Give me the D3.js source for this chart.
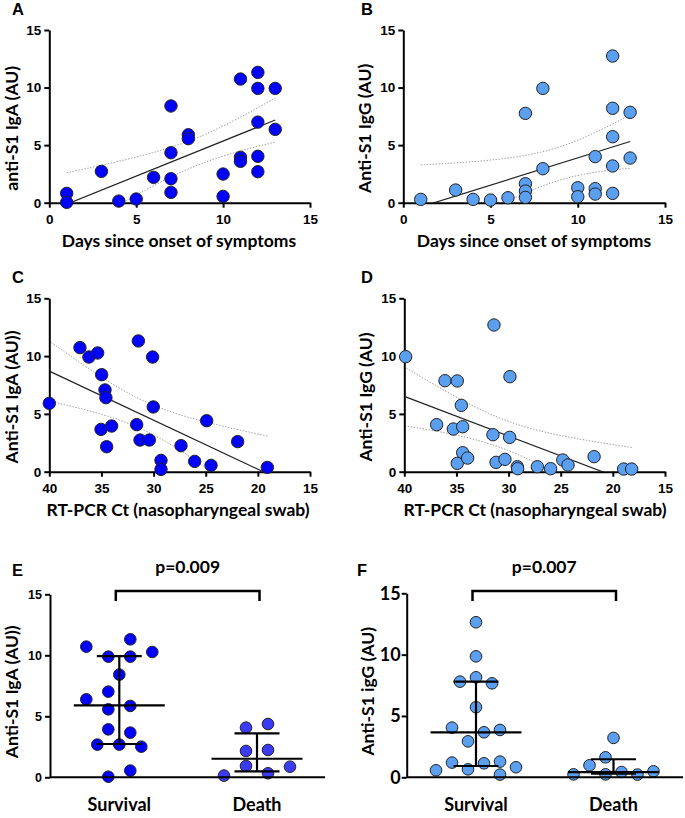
<!DOCTYPE html>
<html><head><meta charset="utf-8">
<script src="https://cdn.jsdelivr.net/npm/d3@7"></script>
<style>body{margin:0;background:#fff}svg{display:block}</style>
</head><body>
<script>
// ---------- DATA ----------
const yTicks = [0, 5, 10, 15];
const dayTicks = [0, 5, 10, 15];
const ctTicks = [40, 35, 30, 25, 20, 15];

// A: days vs IgA
const daysA = [1,1,3,4,5,6,7,7,7,7,8,8,10,10,11,11,11,12,12,12,12,12,13,13];
const igaA  = [0.81,0.03,2.72,0.14,0.32,2.2,8.4,4.34,2.08,0.9,5.9,5.56,2.49,0.55,10.74,3.94,3.59,11.32,9.93,7.0,4.03,2.69,9.93,6.37];
// B: days vs IgG
const daysB = [1,3,4,5,6,7,7,7,7,8,8,10,10,11,11,11,12,12,12,12,12,13,13];
const iggB  = [0.29,1.1,0.29,0.23,0.43,7.76,1.65,1.01,0.46,9.93,2.95,1.3,0.52,4.0,1.22,0.75,12.74,8.2,5.73,3.19,0.81,7.85,3.88];
// C: Ct vs IgA
const ctC  = [40,37.06,36.2,35.36,34.98,34.66,34.57,35.04,34.02,34.5,31.46,31.62,31.3,30.41,30.09,30.03,29.29,29.29,27.37,26.06,24.91,24.49,21.94,19.09];
const igaC = [5.91,10.73,9.92,10.27,8.39,7.07,6.4,3.66,3.95,2.16,11.31,4.07,2.74,2.74,9.92,5.6,0.98,0.2,2.25,0.89,4.41,0.55,2.6,0.37];
// D: Ct vs IgG
const ctD  = [39.87,36.9,36.1,34.92,35.3,34.53,34.4,34.4,34.92,33.93,31.4,31.5,31.2,30.35,29.87,29.9,29.16,29.13,27.24,25.97,24.8,24.3,21.8,18.96,18.2];
const iggD = [9.95,4.07,7.87,7.85,3.69,5.74,3.89,1.64,0.72,1.18,12.69,3.2,0.81,1.07,8.22,2.97,0.43,0.26,0.43,0.26,1.01,0.58,1.3,0.23,0.23];

// E / F: outcome groups
const outcomes = ["Survival", "Death"];
const survivalIgA     = [10.71,11.31,10.27,9.89,9.89,8.42,7.02,6.39,5.57,5.85,3.93,3.66,2.68,2.68,2.51,0.55,0.05];
const survivalIgALane = [-3,1,3,-1,1,0,-1,-3,-1,1,-1,1,-2,0,2,1,-1];
const deathIgA        = [4.07,4.37,2.16,2.24,0.14,0.93,0.33,0.87];
const deathIgALane    = [-1,1,-1,1,-3,-1,1,3];
const survivalIgAStats = [2.73, 5.9, 9.94];   // q1, median, q3
const deathIgAStats    = [0.49, 1.52, 3.6];

const survivalIgG     = [12.64,9.86,7.8,8.15,7.66,5.71,4.05,3.67,3.86,2.93,1.2,0.65,1.14,1.28,0.57,0.82,0.22];
const survivalIgGLane = [0,0,-2,0,2,0,-3,1,3,-1,-3,-1,1,3,-5,5,3];
const deathIgG        = [3.21,1.63,0.98,0.24,0.24,0.43,0.22,0.49];
const deathIgGLane    = [0,-1,-3,-5,-1,1,3,5];
const survivalIgGStats = [0.92, 3.67, 7.8];
const deathIgGStats    = [0.29, 0.43, 1.47];

const pValues = ["p=0.009", "p=0.007"];

// ---------- STYLE / LAYOUT ----------
const W = 685, H = 818;
const BLUE = "#0000ff", BLUE2 = "#3b3bf6", LBLUE = "#5a9ff0";
const TITLE_FONT = "Lato, 'Open Sans', sans-serif";
const TICK_FONT = "'Liberation Sans', Arial, sans-serif";

const svg = d3.select("body").append("svg").attr("width", W).attr("height", H);
const defs = svg.append("defs");

const tTable = {20:2.086, 21:2.080, 22:2.074, 23:2.069, 24:2.064};

function linfit(xs, ys) {
  const n = xs.length;
  const mx = d3.mean(xs), my = d3.mean(ys);
  let sxx = 0, sxy = 0;
  xs.forEach((x, i) => { sxx += (x - mx) ** 2; sxy += (x - mx) * (ys[i] - my); });
  const b = sxy / sxx, a = my - b * mx;
  let sse = 0;
  xs.forEach((x, i) => { sse += (ys[i] - a - b * x) ** 2; });
  const s = Math.sqrt(sse / (n - 2));
  const t = tTable[n - 2] || 2.07;
  return { a, b, half: x => t * s * Math.sqrt(1 / n + (x - mx) ** 2 / sxx) };
}

function styleAxis(g, fontSize, fontFamily) {
  g.select(".domain").attr("stroke", "#000").attr("stroke-width", 2);
  g.selectAll(".tick line").attr("stroke", "#000").attr("stroke-width", 2);
  g.selectAll(".tick text").attr("fill", "#000").attr("font-weight", "bold")
    .attr("font-size", fontSize).attr("font-family", fontFamily);
}

function panelLetter(txt, x, y) {
  svg.append("text").attr("x", x).attr("y", y).text(txt)
    .attr("font-family", TICK_FONT).attr("font-weight", "bold").attr("font-size", 16.5).attr("fill", "#000");
}

function yTitle(txt, x, y) {
  svg.append("text").attr("transform", `translate(${x},${y}) rotate(-90)`)
    .attr("text-anchor", "middle").text(txt)
    .attr("font-family", TITLE_FONT).attr("font-weight", "bold").attr("font-size", 17.5).attr("fill", "#000");
}

function scatterPanel(id, L, xs, ys, color, xTicksArr, xLabel, yLabel, letter) {
  const x = d3.scaleLinear().domain(L.xd).range([L.x0, L.x1]);
  const y = d3.scaleLinear().domain([0, 15]).range([L.y0, L.y1]);
  const g = svg.append("g");
  const clipId = "clip" + id;
  defs.append("clipPath").attr("id", clipId).append("rect")
    .attr("x", L.x0).attr("y", L.y1).attr("width", L.x1 - L.x0).attr("height", L.y0 - L.y1);

  // regression + 95% CI
  const fit = linfit(xs, ys);
  const xr = d3.extent(xs);
  const samples = d3.range(0, 61).map(i => xr[0] + (xr[1] - xr[0]) * i / 60);
  const line = d3.line().x(d => x(d[0])).y(d => y(d[1]));
  const cg = g.append("g").attr("clip-path", `url(#${clipId})`);
  cg.append("path").attr("d", line(samples.map(v => [v, fit.a + fit.b * v + fit.half(v)])))
    .attr("fill", "none").attr("stroke", "#9a9a9a").attr("stroke-width", 1).attr("stroke-dasharray", "1.4,1.6");
  cg.append("path").attr("d", line(samples.map(v => [v, fit.a + fit.b * v - fit.half(v)])))
    .attr("fill", "none").attr("stroke", "#9a9a9a").attr("stroke-width", 1).attr("stroke-dasharray", "1.4,1.6");
  cg.append("path").attr("d", line([xr[0], xr[1]].map(v => [v, fit.a + fit.b * v])))
    .attr("fill", "none").attr("stroke", "#222").attr("stroke-width", 1.2);

  // axes
  const ya = g.append("g").attr("transform", `translate(${L.x0},0)`)
    .call(d3.axisLeft(y).tickValues(yTicks).tickSize(5).tickSizeOuter(0).tickPadding(3));
  styleAxis(ya, 13.5, TICK_FONT);
  const xa = g.append("g").attr("transform", `translate(0,${L.y0})`)
    .call(d3.axisBottom(x).tickValues(xTicksArr).tickSize(5).tickSizeOuter(0).tickPadding(7));
  styleAxis(xa, 13.5, TICK_FONT);

  // points
  g.append("g").selectAll("circle").data(xs.map((v, i) => [v, ys[i]])).join("circle")
    .attr("cx", d => x(d[0])).attr("cy", d => y(d[1])).attr("r", 6.2)
    .attr("fill", color).attr("stroke", "#222").attr("stroke-width", 1);

  // labels
  svg.append("text").attr("x", L.xt).attr("y", L.y0 + 44).attr("text-anchor", "middle").text(xLabel)
    .attr("font-family", TITLE_FONT).attr("font-weight", "bold").attr("font-size", 17.5).attr("fill", "#000");
  yTitle(yLabel, L.yt, (L.y0 + L.y1) / 2 + 12);
  panelLetter(letter, L.lx, L.y1 - 15);
}

scatterPanel("A", {x0:49.3, x1:310, y0:202.7, y1:30, xd:[0,15], xt:179, yt:18, lx:12},
  daysA, igaA, BLUE, dayTicks, "Days since onset of symptoms", "anti-S1 IgA (AU)", "A");
scatterPanel("B", {x0:403.3, x1:665, y0:202.7, y1:30, xd:[0,15], xt:534, yt:371, lx:361},
  daysB, iggB, LBLUE, dayTicks, "Days since onset of symptoms", "Anti-S1 IgG (AU)", "B");
scatterPanel("C", {x0:49.3, x1:310, y0:471.7, y1:298.3, xd:[40,15], xt:178, yt:18, lx:12},
  ctC, igaC, BLUE, ctTicks, "RT-PCR Ct (nasopharyngeal swab)", "Anti-S1 IgA (AU))", "C");
scatterPanel("D", {x0:404.3, x1:665, y0:471.7, y1:298.3, xd:[40,15], xt:535, yt:372, lx:361},
  ctD, iggD, LBLUE, ctTicks, "RT-PCR Ct (nasopharyngeal swab)", "Anti-S1 IgG (AU)", "D");

function groupPanel(L, groups, yLabel, letter, pText, tickFont, tickSize, tickPad) {
  const x = d3.scalePoint().domain(outcomes).range([L.c0, L.c1]);
  const y = d3.scaleLinear().domain([0, 15]).range([L.y0, L.y1]);
  const g = svg.append("g");

  // points
  groups.forEach(gr => {
    g.append("g").selectAll("circle").data(gr.vals.map((v, i) => [v, gr.lane[i]])).join("circle")
      .attr("cx", d => x(gr.name) + d[1] * L.laneW).attr("cy", d => y(d[0])).attr("r", 5.8)
      .attr("fill", gr.color).attr("stroke", "#222").attr("stroke-width", 1);
  });

  // median & IQR
  groups.forEach(gr => {
    const cx = x(gr.name), [q1, med, q3] = gr.stats;
    const s = g.append("g").attr("stroke", "#000").attr("stroke-width", 2.2).attr("fill", "none");
    s.append("line").attr("x1", cx).attr("x2", cx).attr("y1", y(q1)).attr("y2", y(q3));
    s.append("line").attr("x1", cx - 22.5).attr("x2", cx + 22.5).attr("y1", y(q1)).attr("y2", y(q1));
    s.append("line").attr("x1", cx - 22.5).attr("x2", cx + 22.5).attr("y1", y(q3)).attr("y2", y(q3));
    s.append("line").attr("x1", cx - 45.5).attr("x2", cx + 45.5).attr("y1", y(med)).attr("y2", y(med));
  });

  // axes
  const ya = g.append("g").attr("transform", `translate(${L.x0},0)`)
    .call(d3.axisLeft(y).tickValues(yTicks).tickSize(5).tickSizeOuter(0).tickPadding(tickPad));
  styleAxis(ya, tickSize, tickFont);
  g.append("line").attr("x1", L.x0).attr("x2", L.x1).attr("y1", L.y0).attr("y2", L.y0)
    .attr("stroke", "#000").attr("stroke-width", 2);

  // category labels
  outcomes.forEach(o => {
    svg.append("text").attr("x", x(o)).attr("y", L.y0 + 34).attr("text-anchor", "middle").text(o)
      .attr("font-family", TITLE_FONT).attr("font-weight", "bold").attr("font-size", 18).attr("fill", "#000");
  });

  // significance bracket
  const bx0 = x(outcomes[0]) - 3.5, bx1 = x(outcomes[1]) + 2.5;
  svg.append("path").attr("d", `M${bx0},${L.by + 10}V${L.by}H${bx1}V${L.by + 10}`)
    .attr("fill", "none").attr("stroke", "#000").attr("stroke-width", 2.5);
  svg.append("text").attr("x", (bx0 + bx1) / 2).attr("y", L.by - 18).attr("text-anchor", "middle").text(pText)
    .attr("font-family", TITLE_FONT).attr("font-weight", "bold").attr("font-size", 17.5).attr("fill", "#000");

  yTitle(yLabel, L.yt, (L.y0 + L.y1) / 2 + 6);
  panelLetter(letter, L.lx, 576);
}

groupPanel({x0:50, x1:325, y0:777.3, y1:594.3, c0:119.3, c1:257, laneW:11, by:591, yt:18, lx:12},
  [{name:"Survival", vals:survivalIgA, lane:survivalIgALane, stats:survivalIgAStats, color:BLUE},
   {name:"Death", vals:deathIgA, lane:deathIgALane, stats:deathIgAStats, color:BLUE2}],
  "Anti-S1 IgA (AU))", "E", pValues[0], TICK_FONT, 12.5, 3);
groupPanel({x0:406.7, x1:683, y0:777.3, y1:593.3, c0:476, c1:613.5, laneW:8, by:591, yt:374, lx:357},
  [{name:"Survival", vals:survivalIgG, lane:survivalIgGLane, stats:survivalIgGStats, color:LBLUE},
   {name:"Death", vals:deathIgG, lane:deathIgGLane, stats:deathIgGStats, color:LBLUE}],
  "Anti-S1 igG (AU)", "F", pValues[1], TITLE_FONT, 18, 1);
</script>
</body></html>
